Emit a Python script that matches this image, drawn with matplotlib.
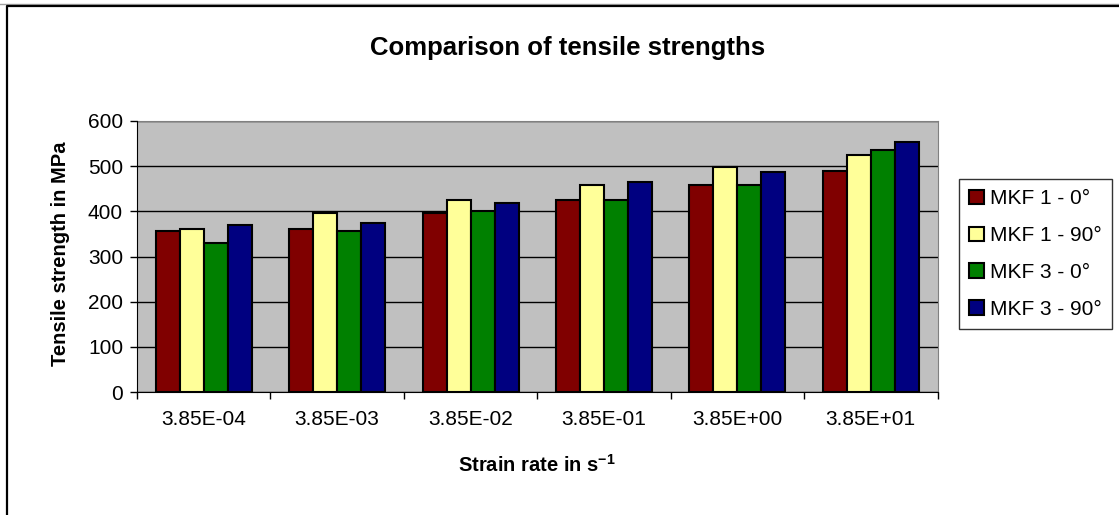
import numpy as np
import matplotlib
matplotlib.use("Agg")
import matplotlib.pyplot as plt
from matplotlib.lines import Line2D

plt.rcParams['font.family'] = ['Liberation Sans', 'DejaVu Sans']
plt.rcParams['mathtext.fontset'] = 'custom'
plt.rcParams['mathtext.rm'] = 'Liberation Sans'
plt.rcParams['mathtext.bf'] = 'Liberation Sans:bold'

# tensile strength (MPa) per strain rate
strain_rates = ['3.85E-04', '3.85E-03', '3.85E-02', '3.85E-01', '3.85E+00', '3.85E+01']
mkf1_0 = [357, 361, 396, 424, 459, 490]
mkf1_90 = [361, 396, 424, 459, 499, 525]
mkf3_0 = [330, 357, 401, 424, 459, 535]
mkf3_90 = [370, 374, 419, 464, 487, 553]

series = [
    ('MKF 1 - 0°', mkf1_0, '#800000'),
    ('MKF 1 - 90°', mkf1_90, '#FFFF99'),
    ('MKF 3 - 0°', mkf3_0, '#008000'),
    ('MKF 3 - 90°', mkf3_90, '#000080'),
]

W, H = 1119, 515
fig = plt.figure(figsize=(W / 100, H / 100), dpi=100)
ax = fig.add_axes([137 / W, 1 - 392 / H, 800.5 / W, 271 / H])
ax.set_facecolor('#C0C0C0')

x = np.arange(len(strain_rates))
bar_w = 0.18
for i, (name, vals, col) in enumerate(series):
    offs = (i - 1.5) * bar_w
    ax.bar(x + offs, vals, width=bar_w, color=col, edgecolor='black',
           linewidth=1.5, label=name, zorder=3)

ax.set_xlim(-0.5, len(strain_rates) - 0.5)
ax.set_ylim(0, 600)
ax.set_yticks(range(0, 601, 100))
ax.yaxis.grid(True, color='black', linewidth=1, zorder=1)
ax.set_axisbelow(True)

# category boundary ticks, labels centred between them
ax.set_xticks(np.arange(-0.5, len(strain_rates), 1.0))
ax.set_xticklabels([])
ax.set_xticks(x, minor=True)
ax.set_xticklabels(strain_rates, minor=True, fontsize=15)
ax.tick_params(axis='x', which='major', length=5, width=1, direction='out')
ax.tick_params(axis='x', which='minor', length=0, pad=13)
ax.tick_params(axis='y', length=5, width=1, direction='out', pad=5, labelsize=15)

for side in ('top', 'right'):
    ax.spines[side].set_color('#808080')
for side in ('left', 'bottom'):
    ax.spines[side].set_color('black')
    ax.spines[side].set_zorder(4)

leg = ax.legend(loc='upper left', bbox_to_anchor=(959 / W, 1 - 179 / H),
                bbox_transform=fig.transFigure, fontsize=15, frameon=True,
                fancybox=False, shadow=False, borderpad=0.5, labelspacing=0.85,
                handlelength=0.7, handleheight=0.7, handletextpad=0.3,
                borderaxespad=0)
leg.get_frame().set_edgecolor('black')
leg.get_frame().set_linewidth(1)
for p in leg.get_patches():
    p.set_linewidth(1.5)

fig.text(568 / W, 1 - 48 / H, 'Comparison of tensile strengths',
         ha='center', va='center', fontsize=18.5, fontweight='bold')
fig.text(537 / W, 1 - 465 / H, r'Strain rate in s$^{\mathbf{-1}}$',
         ha='center', va='center', fontsize=14.5, fontweight='bold')
fig.text(60 / W, 1 - 254 / H, 'Tensile strength in MPa', rotation=90,
         ha='center', va='center', fontsize=14.5, fontweight='bold')

# chart area frame (left and top edges)
fig.add_artist(Line2D([0, 1], [1 - 4 / H, 1 - 4 / H], transform=fig.transFigure,
                      color='#A0A0A0', linewidth=1))
fig.add_artist(Line2D([7 / W, 7 / W, 1], [0, 1 - 5.5 / H, 1 - 5.5 / H],
                      transform=fig.transFigure, color='black', linewidth=1.6))

fig.savefig('out.png', dpi=100)
